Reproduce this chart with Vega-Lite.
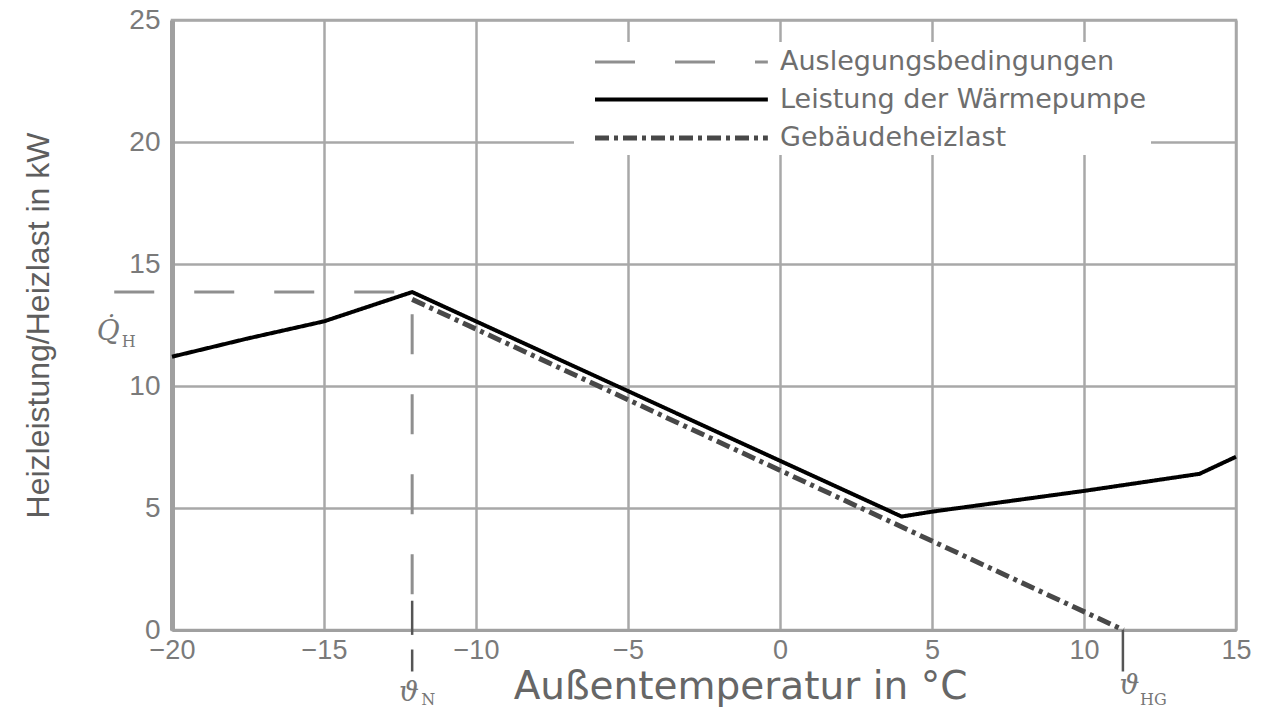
{
  "$schema": "https://vega.github.io/schema/vega-lite/v6.json",
  "width": 1064,
  "height": 610,
  "autosize": {"type": "none"},
  "padding": {"left": 172, "top": 20, "right": 30, "bottom": 78},
  "background": "white",
  "config": {
    "view": {"stroke": "#a8a8a8", "strokeWidth": 2.5},
    "font": "Liberation Sans"
  },
  "datasets": {
    "lines": [
      {"series": "Auslegungsbedingungen", "i": 0, "t": -21.9, "q": 13.85},
      {"series": "Auslegungsbedingungen", "i": 1, "t": -12.1, "q": 13.85},
      {"series": "Auslegungsbedingungen", "i": 2, "t": -12.1, "q": 0},
      {"series": "Gebäudeheizlast", "i": 0, "t": -12.1, "q": 13.55},
      {"series": "Gebäudeheizlast", "i": 1, "t": 11.3, "q": 0},
      {"series": "Leistung der Wärmepumpe", "i": 0, "t": -20, "q": 11.2},
      {"series": "Leistung der Wärmepumpe", "i": 1, "t": -17.5, "q": 11.95},
      {"series": "Leistung der Wärmepumpe", "i": 2, "t": -15, "q": 12.65},
      {"series": "Leistung der Wärmepumpe", "i": 3, "t": -12.1, "q": 13.85},
      {"series": "Leistung der Wärmepumpe", "i": 4, "t": 4, "q": 4.65},
      {"series": "Leistung der Wärmepumpe", "i": 5, "t": 5, "q": 4.85},
      {"series": "Leistung der Wärmepumpe", "i": 6, "t": 10, "q": 5.7},
      {"series": "Leistung der Wärmepumpe", "i": 7, "t": 13.8, "q": 6.4},
      {"series": "Leistung der Wärmepumpe", "i": 8, "t": 15, "q": 7.1}
    ],
    "ticks": [
      {"t": -12.1, "q": 1.2, "q2": -0.2},
      {"t": -12.1, "q": -0.8, "q2": -1.7},
      {"t": 11.28, "q": 0, "q2": -1.7}
    ],
    "symbols": [
      {"t": -12.2, "q": -2.6, "s": "ϑ"},
      {"t": 11.5, "q": -2.3, "s": "ϑ"},
      {"t": -22.1, "q": 12.2, "s": "Q̇"}
    ],
    "subs": [
      {"t": -11.8, "q": -2.85, "s": "N"},
      {"t": 11.84, "q": -2.85, "s": "HG"},
      {"t": -21.65, "q": 11.8, "s": "H"}
    ]
  },
  "layer": [
    {
      "data": {"name": "lines"},
      "mark": {"type": "line", "clip": false, "strokeCap": "butt", "strokeJoin": "miter"},
      "encoding": {
        "x": {
          "field": "t", "type": "quantitative",
          "scale": {"domain": [-20, 15], "nice": false, "zero": false},
          "axis": {
            "values": [-20, -15, -10, -5, 0, 5, 10, 15],
            "grid": true, "gridColor": "#a8a8a8", "gridWidth": 2.5,
            "domainColor": "#a0a0a0", "domainWidth": 3,
            "ticks": false, "labelFlush": false,
            "labelFontSize": 27, "labelColor": "#7a7a7a", "labelPadding": 7,
            "title": "Außentemperatur in °C", "titleFont": "DejaVu Sans", "titleFontSize": 39, "titleFontWeight": "normal",
            "titleColor": "#666666", "titleX": 568, "titleY": 56, "titleBaseline": "middle", "titleAlign": "center"
          }
        },
        "y": {
          "field": "q", "type": "quantitative",
          "scale": {"domain": [0, 25], "nice": false},
          "axis": {
            "values": [0, 5, 10, 15, 20, 25],
            "grid": true, "gridColor": "#a8a8a8", "gridWidth": 2.5,
            "domainColor": "#a0a0a0", "domainWidth": 5,
            "ticks": false,
            "labelFontSize": 28, "labelColor": "#7a7a7a", "labelPadding": 12,
            "title": "Heizleistung/Heizlast in kW", "titleFontSize": 32, "titleFontWeight": "normal",
            "titleColor": "#5e5e5e", "titleX": -134, "titleY": 305, "titleBaseline": "middle", "titleAlign": "center", "titleAngle": -90
          }
        },
        "order": {"field": "i", "type": "quantitative"},
        "color": {
          "field": "series", "type": "nominal",
          "scale": {
            "domain": ["Auslegungsbedingungen", "Leistung der Wärmepumpe", "Gebäudeheizlast"],
            "range": ["#8f8f8f", "#000000", "#484848"]
          },
          "legend": {
            "title": null, "orient": "none", "legendX": 402, "legendY": 22,
            "fillColor": "white", "padding": 4,
            "symbolType": "M0,0H12", "symbolSize": 830,
            "labelFont": "DejaVu Sans", "labelFontSize": 27, "labelColor": "#6e6e6e",
            "labelOffset": 168, "labelLimit": 600, "rowPadding": 8
          }
        },
        "strokeDash": {
          "field": "series", "type": "nominal",
          "scale": {
            "domain": ["Auslegungsbedingungen", "Leistung der Wärmepumpe", "Gebäudeheizlast"],
            "range": [[40, 40], [1, 0], [14, 5, 4, 5]]
          }
        },
        "strokeWidth": {
          "field": "series", "type": "nominal",
          "scale": {
            "domain": ["Auslegungsbedingungen", "Leistung der Wärmepumpe", "Gebäudeheizlast"],
            "range": [3, 5, 2]
          }
        }
      }
    },
    {
      "data": {"name": "ticks"},
      "mark": {"type": "rule", "clip": false, "color": "#555555", "strokeWidth": 2.5},
      "encoding": {
        "x": {"field": "t", "type": "quantitative"},
        "y": {"field": "q", "type": "quantitative"},
        "y2": {"field": "q2"}
      }
    },
    {
      "data": {"name": "symbols"},
      "mark": {"type": "text", "clip": false, "font": "DejaVu Serif", "fontStyle": "italic", "fontSize": 28, "color": "#777777", "align": "center", "baseline": "middle"},
      "encoding": {
        "x": {"field": "t", "type": "quantitative"},
        "y": {"field": "q", "type": "quantitative"},
        "text": {"field": "s"}
      }
    },
    {
      "data": {"name": "subs"},
      "mark": {"type": "text", "clip": false, "font": "DejaVu Serif", "fontSize": 16, "color": "#777777", "align": "left", "baseline": "middle"},
      "encoding": {
        "x": {"field": "t", "type": "quantitative"},
        "y": {"field": "q", "type": "quantitative"},
        "text": {"field": "s"}
      }
    }
  ]
}
